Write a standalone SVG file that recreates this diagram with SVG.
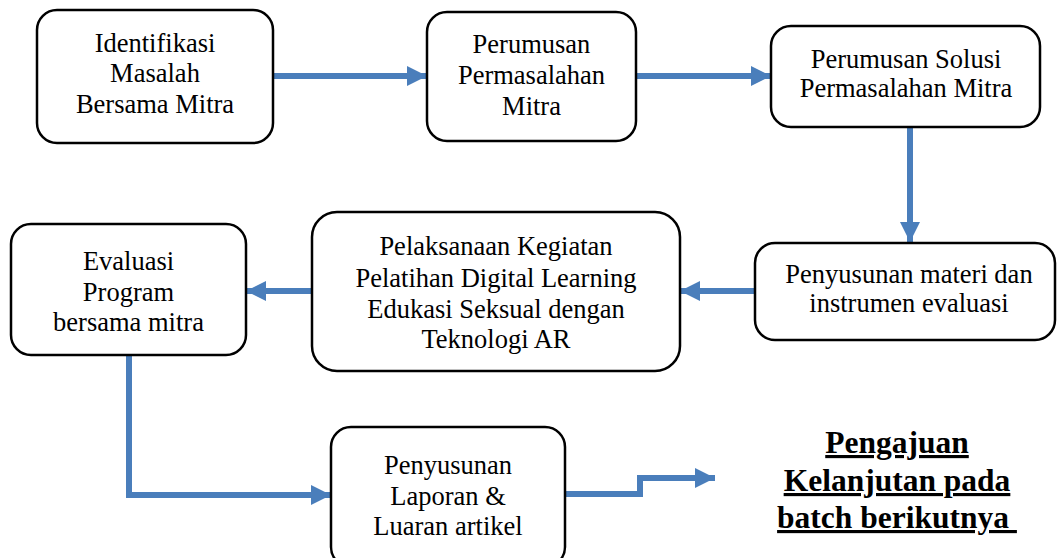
<svg xmlns="http://www.w3.org/2000/svg" width="1058" height="558" viewBox="0 0 1058 558">
<defs>
<style>
.box{fill:#fff;stroke:#000;stroke-width:2.5}
.t{font-family:'Liberation Serif',serif;font-size:26.5px;fill:#000;text-anchor:middle}
.b{font-family:'Liberation Serif',serif;font-size:31.5px;font-weight:bold;fill:#000;text-anchor:middle;text-decoration:underline}
.c{fill:none;stroke:#4A7EBB;stroke-width:6;stroke-linejoin:miter}
</style>
<marker id="ah" markerUnits="userSpaceOnUse" markerWidth="20" markerHeight="20" refX="20" refY="10" orient="auto">
<path d="M0,0 L20,10 L0,20 z" fill="#4A7EBB"/>
</marker>
</defs>
<rect width="1058" height="558" fill="#fff"/>
<g id="connectors">
<path class="c" d="M273,76 H427" marker-end="url(#ah)"/>
<path class="c" d="M636,76 H771" marker-end="url(#ah)"/>
<path class="c" d="M910,127 V242" marker-end="url(#ah)"/>
<path class="c" d="M755,291 H680" marker-end="url(#ah)"/>
<path class="c" d="M312,291 H246" marker-end="url(#ah)"/>
<path class="c" d="M129,355 V495 H331" marker-end="url(#ah)"/>
<path class="c" d="M565,494 H640 V478 H715" marker-end="url(#ah)"/>
</g>
<g id="n1">
<rect class="box" x="37" y="10" width="236" height="133" rx="20"/>
<text class="t" x="155" y="52">Identifikasi</text>
<text class="t" x="155" y="82">Masalah</text>
<text class="t" x="155" y="113">Bersama Mitra</text>
</g>
<g id="n2">
<rect class="box" x="427" y="12" width="209" height="129" rx="20"/>
<text class="t" x="531.5" y="53">Perumusan</text>
<text class="t" x="531.5" y="84">Permasalahan</text>
<text class="t" x="531.5" y="115">Mitra</text>
</g>
<g id="n3">
<rect class="box" x="771" y="26" width="269" height="101" rx="20"/>
<text class="t" x="906" y="68">Perumusan Solusi</text>
<text class="t" x="906" y="97">Permasalahan Mitra</text>
</g>
<g id="n4">
<rect class="box" x="755" y="243" width="300" height="97" rx="20"/>
<text class="t" x="909" y="283">Penyusunan materi dan</text>
<text class="t" x="909" y="312">instrumen evaluasi</text>
</g>
<g id="n5">
<rect class="box" x="312" y="212" width="368" height="159" rx="25"/>
<text class="t" x="496" y="255">Pelaksanaan Kegiatan</text>
<text class="t" x="496" y="287">Pelatihan Digital Learning</text>
<text class="t" x="496" y="318">Edukasi Seksual dengan</text>
<text class="t" x="496" y="348">Teknologi AR</text>
</g>
<g id="n6">
<rect class="box" x="11" y="224" width="235" height="131" rx="20"/>
<text class="t" x="128.5" y="270">Evaluasi</text>
<text class="t" x="128.5" y="301">Program</text>
<text class="t" x="128.5" y="331">bersama mitra</text>
</g>
<g id="n7">
<rect class="box" x="331" y="427" width="234" height="140" rx="20"/>
<text class="t" x="448" y="474">Penyusunan</text>
<text class="t" x="448" y="505">Laporan &amp;</text>
<text class="t" x="448" y="535">Luaran artikel</text>
</g>
<g id="n8">
<text class="b" x="897" y="453">Pengajuan</text>
<text class="b" x="897" y="491">Kelanjutan pada</text>
<text class="b" x="897" y="528">batch berikutnya&#160;</text>
</g>
</svg>
